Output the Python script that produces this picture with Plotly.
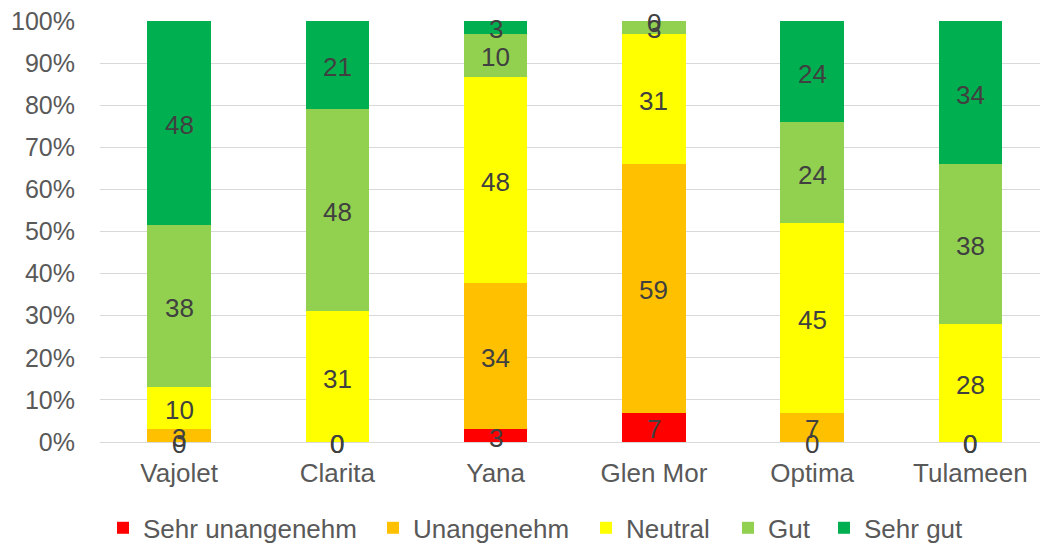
import numpy as np
import plotly.graph_objects as go

varieties = ["Vajolet", "Clarita", "Yana", "Glen Mor", "Optima", "Tulameen"]

sehr_unangenehm = [0, 0, 3, 7, 0, 0]
unangenehm = [3, 0, 34, 59, 7, 0]
neutral = [10, 31, 48, 31, 45, 28]
gut = [38, 48, 10, 3, 24, 38]
sehr_gut = [48, 21, 3, 0, 24, 34]

series_names = ["Sehr unangenehm", "Unangenehm", "Neutral", "Gut", "Sehr gut"]
series_values = [sehr_unangenehm, unangenehm, neutral, gut, sehr_gut]
series_colors = ["#FF0000", "#FFC000", "#FFFF00", "#92D050", "#00B050"]

FONT = "Liberation Sans, Arial, sans-serif"
TEXT_COLOR = "#404040"
AXIS_COLOR = "#595959"
SIZE = 26

# plot area in pixels (left margin / width) used to place the legend entries
PLOT_LEFT, PLOT_WIDTH = 100, 940
legend_text_px = [143, 413, 626, 768, 864]

fig = go.Figure()

legend_ids = ["legend"] + [f"legend{i}" for i in range(2, len(series_names) + 1)]
for name, vals, color, lid in zip(series_names, series_values, series_colors, legend_ids):
    fig.add_trace(go.Bar(
        x=varieties, y=vals, name=name,
        marker=dict(color=color, line=dict(width=0)),
        hoverinfo="skip", legend=lid,
    ))

# value labels at the middle of each (normalised) segment
raw = np.array(series_values, dtype=float)
totals = raw.sum(axis=0)
pct = raw / totals * 100
tops = np.cumsum(pct, axis=0)
mids = tops - pct / 2
annotations = []
for i in range(len(series_names)):
    for j, cat in enumerate(varieties):
        annotations.append(dict(
            x=cat, y=float(mids[i][j]), xref="x", yref="y",
            text=str(series_values[i][j]), showarrow=False,
            xanchor="center", yanchor="middle", yshift=-2,
            font=dict(family=FONT, size=SIZE, color=TEXT_COLOR),
        ))

legend_layout = {}
for lid, tx in zip(legend_ids, legend_text_px):
    legend_layout[lid] = dict(
        orientation="h",
        x=(tx - 40 - PLOT_LEFT) / PLOT_WIDTH, xanchor="left",
        y=-0.204, yanchor="middle",
        font=dict(family=FONT, size=SIZE, color=AXIS_COLOR),
        itemwidth=30,
        bgcolor="rgba(0,0,0,0)",
        borderwidth=0,
    )

fig.update_layout(
    barmode="stack",
    barnorm="percent",
    bargap=0.6,
    width=1040, height=545,
    margin=dict(l=PLOT_LEFT, r=0, t=21, b=103, autoexpand=False),
    paper_bgcolor="white",
    plot_bgcolor="white",
    font=dict(family=FONT, size=SIZE, color=AXIS_COLOR),
    annotations=annotations,
    xaxis=dict(
        range=[-0.5, 5.44],
        showgrid=False, zeroline=False,
        showline=True, linecolor="#D9D9D9", linewidth=1,
        ticks="", ticklabelstandoff=8,
        tickfont=dict(family=FONT, size=SIZE, color=AXIS_COLOR),
    ),
    yaxis=dict(
        range=[0, 100], dtick=10, ticksuffix="%",
        showgrid=True, gridcolor="#D9D9D9", gridwidth=1,
        zeroline=False, showline=False,
        ticks="", ticklabelstandoff=24,
        tickfont=dict(family=FONT, size=25, color=AXIS_COLOR),
    ),
    showlegend=True,
    **legend_layout,
)

fig.write_html("out.html")
